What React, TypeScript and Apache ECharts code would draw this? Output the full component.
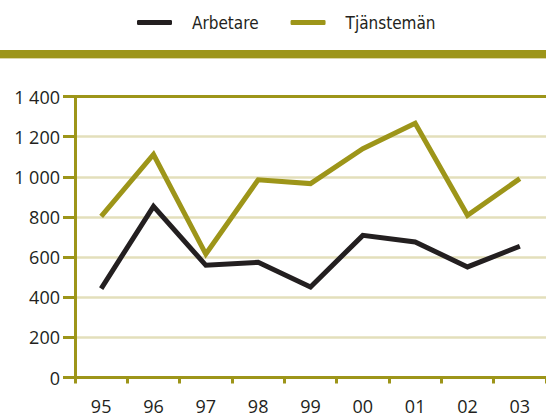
import React, { useEffect, useRef } from "react";
import * as echarts from "echarts";

const categories = ["95", "96", "97", "98", "99", "00", "01", "02", "03"];
const arbetare = [443, 853, 559, 574, 451, 708, 675, 551, 654];
const tjansteman = [803, 1111, 615, 985, 966, 1140, 1267, 808, 991];
const seriesNames = ["Arbetare", "Tjänstemän"];
const yMin = 0;
const yMax = 1400;
const yInterval = 200;

const OLIVE = "#9d9519";
const BLACK = "#231f20";
const GRID = "#e3dfbb";
const TEXT = "#231f20";

export default function App() {
  const ref = useRef<HTMLDivElement>(null);
  useEffect(() => {
    if (!ref.current) return;
    const chart = echarts.init(ref.current, null, { renderer: "svg" });
    chart.setOption({
      animation: false,
      backgroundColor: "#ffffff",
      legend: {
        left: 132,
        top: 7,
        itemWidth: 35,
        itemHeight: 5,
        itemGap: 32,
        icon: "roundRect",
        data: seriesNames,
        textStyle: {
          fontFamily: "DejaVu Sans Condensed, DejaVu Sans",
          fontSize: 17,
          color: TEXT,
          padding: [0, 0, 0, 15],
          lineHeight: 21,
        },
      },
      graphic: [
        {
          type: "rect",
          left: 0,
          top: 50,
          shape: { width: 546, height: 8 },
          style: { fill: OLIVE },
        },
        {
          type: "rect",
          left: 0,
          top: 58,
          shape: { width: 546, height: 1 },
          style: { fill: "#dcd7a8" },
        },
      ],
      grid: { left: 75, width: 474, top: 96.5, height: 281 },
      xAxis: [
        {
          type: "category",
          data: categories,
          boundaryGap: true,
          axisLine: { lineStyle: { color: OLIVE, width: 3 } },
          axisTick: { show: true, length: 6, lineStyle: { color: OLIVE, width: 3 } },
          axisLabel: {
            color: TEXT,
            fontFamily: "Open Sans",
            fontSize: 18,
            margin: 19,
          },
        },
        {
          type: "category",
          data: categories,
          position: "top",
          axisLine: { lineStyle: { color: OLIVE, width: 3 } },
          axisTick: { show: false },
          axisLabel: { show: false },
        },
      ],
      yAxis: {
        type: "value",
        min: yMin,
        max: yMax,
        interval: yInterval,
        axisLine: { show: true, lineStyle: { color: OLIVE, width: 3 } },
        axisTick: { show: true, length: 12, lineStyle: { color: OLIVE, width: 3 } },
        axisLabel: {
          color: TEXT,
          fontFamily: "Open Sans",
          fontSize: 18,
          margin: 15,
          formatter: (v: number) => String(v).replace(/\B(?=(\d{3})+(?!\d))/g, " "),
        },
        splitLine: { show: true, lineStyle: { color: GRID, width: 2.5 } },
      },
      series: [
        {
          name: seriesNames[0],
          type: "line",
          data: arbetare,
          symbol: "none",
          color: BLACK,
          lineStyle: { width: 5, color: BLACK, join: "miter" },
        },
        {
          name: seriesNames[1],
          type: "line",
          data: tjansteman,
          symbol: "none",
          color: OLIVE,
          lineStyle: { width: 5, color: OLIVE, join: "miter" },
        },
      ],
    });
    return () => chart.dispose();
  }, []);
  return (
    <div
      ref={ref}
      style={{ position: "fixed", left: 0, top: 0, width: 546, height: 419 }}
    />
  );
}
